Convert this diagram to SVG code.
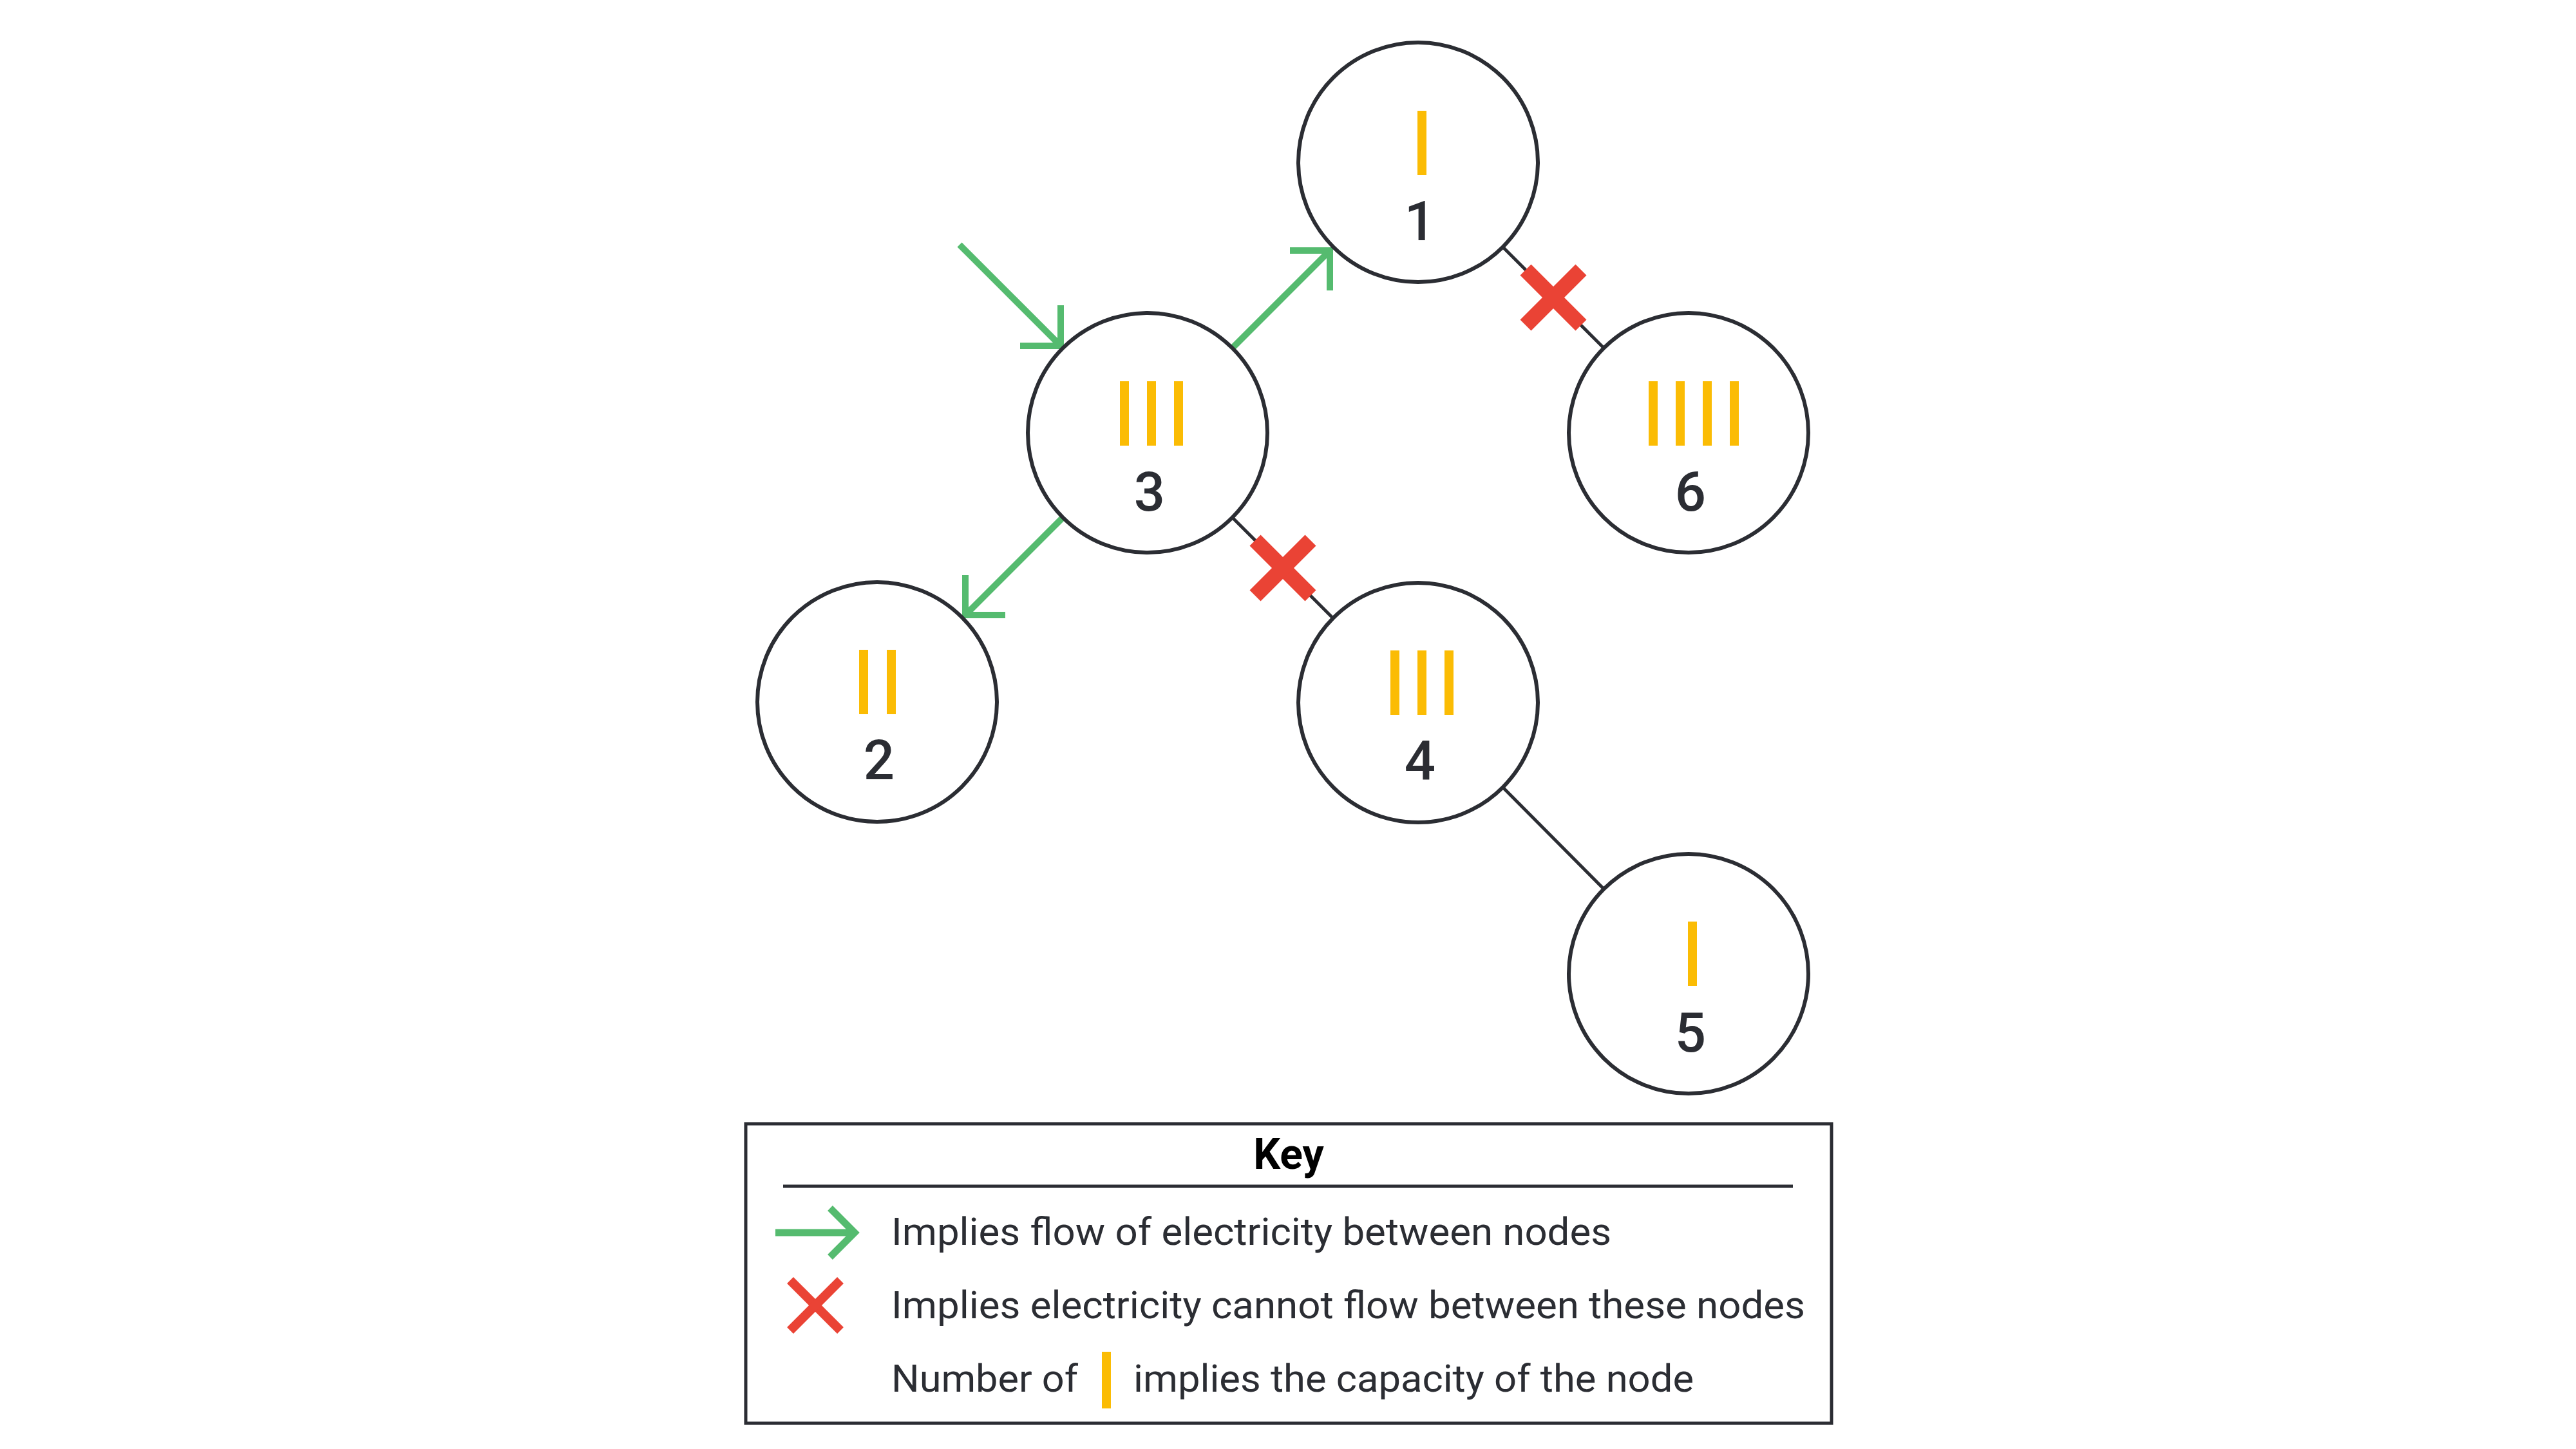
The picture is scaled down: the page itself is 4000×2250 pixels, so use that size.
<svg xmlns="http://www.w3.org/2000/svg" width="4000" height="2250" viewBox="0 0 4000 2250">
<style>
.node{fill:#fff;stroke:#2b2d33;stroke-width:6}
.bar{fill:#fbbc04}
.num{font-family:Roboto,"Liberation Sans",sans-serif;font-weight:500;font-size:85px;fill:#2b2d33;text-anchor:middle}
.edge{stroke:#2b2d33;stroke-width:5;fill:none}
.flow{stroke:#55bb6f;stroke-width:10;fill:none;stroke-linecap:butt;stroke-linejoin:miter}
.cross{stroke:#ea4335;stroke-width:24;stroke-linecap:butt}
.ktxt{font-family:Roboto,"Liberation Sans",sans-serif;font-size:60px;fill:#2b2d33}
</style>
<rect width="4000" height="2250" fill="#fff"/>
<g id="connectors">
  <line class="edge" x1="2333.5" y1="383.5" x2="2490.5" y2="540.5"/>
  <line class="edge" x1="1913.5" y1="803.5" x2="2070.5" y2="960.5"/>
  <line class="edge" x1="2333.5" y1="1222.5" x2="2490.5" y2="1380.5"/>
  <g id="cross-1-6">
    <line class="cross" x1="2369" y1="419" x2="2455" y2="505"/>
    <line class="cross" x1="2369" y1="505" x2="2455" y2="419"/>
  </g>
  <g id="cross-3-4">
    <line class="cross" x1="1949" y1="839" x2="2035" y2="925"/>
    <line class="cross" x1="1949" y1="925" x2="2035" y2="839"/>
  </g>
  <g id="arrow-in-3">
    <line class="flow" x1="1490" y1="380" x2="1645" y2="535"/>
    <polyline class="flow" points="1647,474 1647,537 1584,537"/>
  </g>
  <g id="arrow-3-1">
    <line class="flow" x1="1913.5" y1="540.5" x2="2063" y2="391"/>
    <polyline class="flow" points="2003,389 2065,389 2065,451"/>
  </g>
  <g id="arrow-3-2">
    <line class="flow" x1="1650.5" y1="803.5" x2="1501" y2="953"/>
    <polyline class="flow" points="1499,893 1499,955 1561,955"/>
  </g>
</g>
<g id="node1">
  <circle class="node" cx="2202" cy="252" r="186"/>
  <rect class="bar" x="2201" y="172" width="14" height="100"/>
  <text class="num" x="2205" y="373">1</text>
</g>
<g id="node3">
  <circle class="node" cx="1782" cy="672" r="186"/>
  <rect class="bar" x="1739" y="592" width="14" height="100"/>
  <rect class="bar" x="1781" y="592" width="14" height="100"/>
  <rect class="bar" x="1823" y="592" width="14" height="100"/>
  <text class="num" x="1785" y="793">3</text>
</g>
<g id="node6">
  <circle class="node" cx="2622" cy="672" r="186"/>
  <rect class="bar" x="2560" y="592" width="14" height="100"/>
  <rect class="bar" x="2602" y="592" width="14" height="100"/>
  <rect class="bar" x="2644" y="592" width="14" height="100"/>
  <rect class="bar" x="2686" y="592" width="14" height="100"/>
  <text class="num" x="2625" y="793">6</text>
</g>
<g id="node2">
  <circle class="node" cx="1362" cy="1090" r="186"/>
  <rect class="bar" x="1334" y="1009" width="14" height="100"/>
  <rect class="bar" x="1377" y="1009" width="14" height="100"/>
  <text class="num" x="1365" y="1210">2</text>
</g>
<g id="node4">
  <circle class="node" cx="2202" cy="1091" r="186"/>
  <rect class="bar" x="2159" y="1010" width="14" height="100"/>
  <rect class="bar" x="2201" y="1010" width="14" height="100"/>
  <rect class="bar" x="2243" y="1010" width="14" height="100"/>
  <text class="num" x="2205" y="1211">4</text>
</g>
<g id="node5">
  <circle class="node" cx="2622" cy="1512" r="186"/>
  <rect class="bar" x="2621" y="1431" width="14" height="100"/>
  <text class="num" x="2625" y="1633">5</text>
</g>
<g id="key">
  <rect x="1158" y="1745" width="1686" height="465" fill="#fff" stroke="#2b2d33" stroke-width="5"/>
  <text x="2001" y="1815" font-family="Roboto,'Liberation Sans',sans-serif" font-weight="700" font-size="66" fill="#000" text-anchor="middle">Key</text>
  <line x1="1216" y1="1842" x2="2784" y2="1842" stroke="#2b2d33" stroke-width="5"/>
  <line x1="1204" y1="1914" x2="1324" y2="1914" stroke="#55bb6f" stroke-width="11"/>
  <polyline points="1289,1876 1327,1914 1289,1952" fill="none" stroke="#55bb6f" stroke-width="11" stroke-linejoin="miter"/>
  <line x1="1227" y1="1988" x2="1305" y2="2066" stroke="#ea4335" stroke-width="14"/>
  <line x1="1227" y1="2066" x2="1305" y2="1988" stroke="#ea4335" stroke-width="14"/>
  <rect class="bar" x="1711" y="2099" width="14" height="88"/>
  <text class="ktxt" x="1384" y="1933" textLength="1118" lengthAdjust="spacingAndGlyphs">Implies flow of electricity between nodes</text>
  <text class="ktxt" x="1384" y="2047" textLength="1419" lengthAdjust="spacingAndGlyphs">Implies electricity cannot flow between these nodes</text>
  <text class="ktxt" x="1384" y="2161" textLength="290" lengthAdjust="spacingAndGlyphs">Number of</text>
  <text class="ktxt" x="1760" y="2161" textLength="870" lengthAdjust="spacingAndGlyphs">implies the capacity of the node</text>
</g>
</svg>
